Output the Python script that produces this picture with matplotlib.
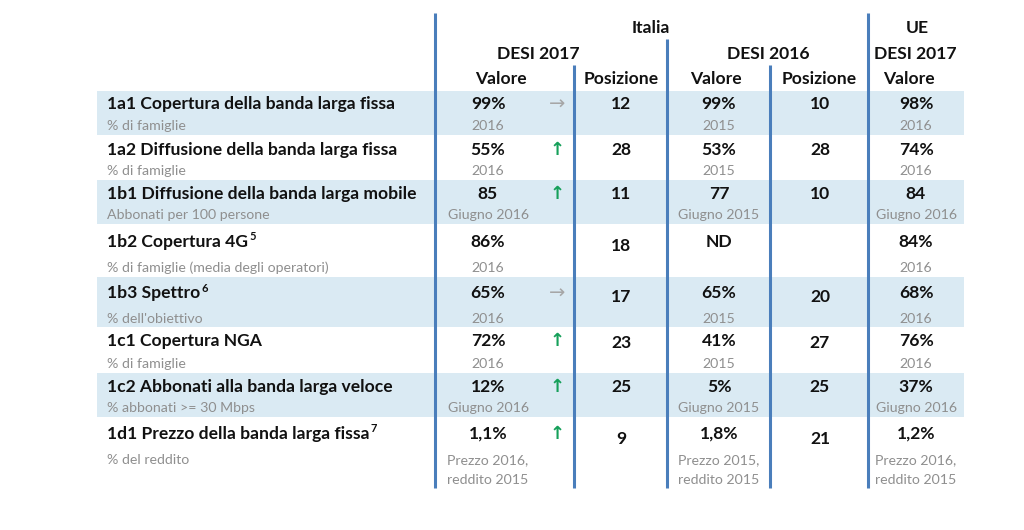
import matplotlib
matplotlib.use("Agg")
import matplotlib.pyplot as plt

# ---------------- data ----------------
labels = ["1a1 Copertura della banda larga fissa",
          "1a2 Diffusione della banda larga fissa",
          "1b1 Diffusione della banda larga mobile",
          "1b2 Copertura 4G",
          "1b3 Spettro",
          "1c1 Copertura NGA",
          "1c2 Abbonati alla banda larga veloce",
          "1d1 Prezzo della banda larga fissa"]
label_notes = ["", "", "", "5", "6", "", "", "7"]
subtitles = ["% di famiglie", "% di famiglie", "Abbonati per 100 persone",
             "% di famiglie (media degli operatori)", "% dell'obiettivo",
             "% di famiglie", "% abbonati >= 30 Mbps", "% del reddito"]

it17_values = ["99%", "55%", "85", "86%", "65%", "72%", "12%", "1,1%"]
it17_sub = ["2016", "2016", "Giugno 2016", "2016", "2016", "2016", "Giugno 2016",
            "Prezzo 2016,\nreddito 2015"]
it17_trend = ["flat", "up", "up", "", "flat", "up", "up", "up"]
it17_rank = ["12", "28", "11", "18", "17", "23", "25", "9"]

it16_values = ["99%", "53%", "77", "ND", "65%", "41%", "5%", "1,8%"]
it16_sub = ["2015", "2015", "Giugno 2015", "", "2015", "2015", "Giugno 2015",
            "Prezzo 2015,\nreddito 2015"]
it16_rank = ["10", "28", "10", "", "20", "27", "25", "21"]

eu17_values = ["98%", "74%", "84", "84%", "68%", "76%", "37%", "1,2%"]
eu17_sub = ["2016", "2016", "Giugno 2016", "2016", "2016", "2016", "Giugno 2016",
            "Prezzo 2016,\nreddito 2015"]

# ---------------- layout ----------------
W, H = 1024, 530
row_tops = [91, 135, 180, 224, 277, 327, 373, 417, 488]
main_off = [13, 15, 14, 18, 16, 14, 14, 17]
sub_off = [35, 36, 35, 44, 42, 37, 35, 43]
rank_off = [13, 15, 14, 22, 20, 16, 14, 22]
sub_line_gap = 20

x_label = 107
x_it17 = 488
x_arrow = 557
x_rank17 = 621
x_it16 = 719
x_rank16 = 820
x_eu = 916

FONT = "Lato"
BLACK = "#111111"
GREY = "#8F8F8F"
BAND = "#DAEAF3"
LINE = "#4A7EBB"
GREEN = "#16A05A"
ARROWGREY = "#A6A6A6"

fs_main = 12.6
fs_sub = 10.2

fig = plt.figure(figsize=(W / 100, H / 100), dpi=100)
ax = fig.add_axes([0, 0, 1, 1])
ax.set_xlim(0, W)
ax.set_ylim(H, 0)
ax.axis("off")

# shaded bands
for i in range(len(labels)):
    if i % 2 == 0:
        ax.axhspan(row_tops[i], row_tops[i + 1], xmin=97 / W, xmax=964 / W,
                   color=BAND, lw=0, zorder=0)

# vertical separators
for x, top in [(435, 13), (574, 65), (667, 39), (770, 65), (868, 13)]:
    ax.plot([x, x], [top, 488], color=LINE, lw=2.2, zorder=2,
            solid_capstyle="butt")

# headers
hdr = dict(fontfamily=FONT, fontweight="bold", fontsize=fs_main, color=BLACK,
           ha="center", va="center")
ax.text(651, 28, "Italia", **hdr)
ax.text(917, 28, "UE", **hdr)
ax.text(538, 54, "DESI 2017", **hdr)
ax.text(768, 54, "DESI 2016", **hdr)
ax.text(915, 54, "DESI 2017", **hdr)
ax.text(501, 79, "Valore", **hdr)
ax.text(621, 79, "Posizione", **hdr)
ax.text(716, 79, "Valore", **hdr)
ax.text(819, 79, "Posizione", **hdr)
ax.text(909, 79, "Valore", **hdr)

fig.canvas.draw()
renderer = fig.canvas.get_renderer()

main = dict(fontfamily=FONT, fontweight="bold", fontsize=fs_main, color=BLACK,
            va="center")
sub = dict(fontfamily=FONT, fontsize=fs_sub, color=GREY, va="center")


def sub_text(x, y, s):
    for k, line in enumerate(s.split("\n")):
        ax.text(x, y + k * sub_line_gap, line, ha="center", **sub)


for i in range(len(labels)):
    top = row_tops[i]
    ym = top + main_off[i]
    ys = top + sub_off[i]
    yr = top + rank_off[i]
    t = ax.text(x_label, ym, labels[i], ha="left", **main)
    if label_notes[i]:
        bb = t.get_window_extent(renderer)
        ax.text(bb.x1 + 1, ym - 5, label_notes[i], ha="left",
                fontfamily=FONT, fontweight="bold", fontsize=8, color=BLACK,
                va="center")
    ax.text(x_label, ys, subtitles[i], ha="left", **sub)

    ax.text(x_it17, ym, it17_values[i], ha="center", **main)
    sub_text(x_it17, ys, it17_sub[i])
    if it17_trend[i] == "up":
        ax.text(x_arrow, ym, "\u2191", ha="center", va="center",
                fontfamily="DejaVu Sans", fontsize=13, color=GREEN,
                fontweight="bold")
    elif it17_trend[i] == "flat":
        ax.text(x_arrow, ym, "\u2192", ha="center", va="center",
                fontfamily="DejaVu Sans", fontsize=14, color=ARROWGREY)
    ax.text(x_rank17, yr, it17_rank[i], ha="center", **main)

    ax.text(x_it16, ym, it16_values[i], ha="center", **main)
    if it16_sub[i]:
        sub_text(x_it16, ys, it16_sub[i])
    if it16_rank[i]:
        ax.text(x_rank16, yr, it16_rank[i], ha="center", **main)

    ax.text(x_eu, ym, eu17_values[i], ha="center", **main)
    sub_text(x_eu, ys, eu17_sub[i])

fig.savefig("out.png", dpi=100, facecolor="white")
